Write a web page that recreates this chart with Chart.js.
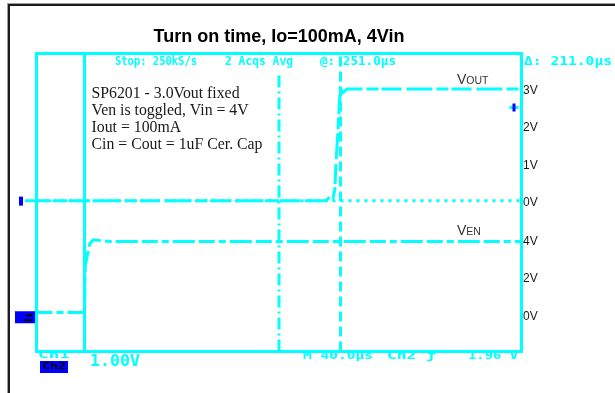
<!DOCTYPE html>
<html>
<head>
<meta charset="utf-8">
<title>Turn on time</title>
<script src="https://cdn.jsdelivr.net/npm/chart.js@4.4.0/dist/chart.umd.min.js"></script>
<style>
  html, body { margin: 0; padding: 0; background: #fff; }
  #wrap { position: relative; width: 615px; height: 393px; overflow: hidden; }
  #frame {
    position: absolute; left: 8px; top: 4px; width: 700px; height: 500px;
    border-left: 2px solid #1c1c1c; border-top: 2px solid #1c1c1c;
    box-shadow: -1px -1px 0 #a0a0a0;
  }
  canvas { position: absolute; left: 0; top: 0; }
</style>
</head>
<body>
<div id="wrap">
  <div id="frame"></div>
  <canvas id="scopeChart" width="615" height="393"></canvas>
</div>
<script>
// scope capture: 40 us/div, Vout 1 V/div, Ven 2 V/div
const voutTime  = [-9.5, 239, 241.5, 244.5, 246, 247, 248.5, 249.8, 250.5, 253, 256, 400];
const voutVolts = [0, 0, 0.1, 0.05, 0.3, 1.0, 1.8, 2.6, 3.0, 2.9, 3.0, 3.0];
const venTime   = [0, 39.6, 40.2, 42, 44, 47, 60, 400];
const venVolts  = [0.1, 0.1, 2.6, 3.2, 3.8, 4.0, 3.9, 3.9];
const cursorTimes = [39.6, 250.7];   // delta = 211 us
const centerTime = 200;
const voutTicks = [3, 2, 1, 0];
const venTicks = [4, 2, 0];
const trigLevel = 2.5;

const noteLines = [
  'SP6201 - 3.0Vout fixed',
  'Ven is toggled, Vin = 4V',
  'Iout = 100mA',
  'Cin = Cout = 1uF Cer. Cap'
];

// channel offsets on screen (divisions from the bottom)
const VOUT_ZERO = 4.05, VOUT_PER_DIV = 1;
const VEN_ZERO = 1.0, VEN_PER_DIV = 2;
const voutDiv = v => VOUT_ZERO + v / VOUT_PER_DIV;
const venDiv = v => VEN_ZERO + v / VEN_PER_DIV;

const CYAN = '#00ffff';
const BLUE = '#0000ff';

const yTickList = voutTicks.map(v => ({ value: voutDiv(v), label: v + 'V' }))
  .concat(venTicks.map(v => ({ value: venDiv(v), label: v + 'V' })));

function vLine(t, y0, y1) {
  return [{ x: t, y: y0 }, { x: t, y: y1 }];
}

function fitText(ctx, text, x0, x1, yMid, size, color) {
  ctx.save();
  ctx.font = 'bold ' + size + 'px "DejaVu Sans Mono"';
  const w = ctx.measureText(text).width;
  ctx.translate(x0, yMid);
  ctx.scale((x1 - x0) / w, 1);
  ctx.fillStyle = color;
  ctx.textBaseline = 'middle';
  ctx.fillText(text, 0, 0);
  ctx.restore();
}

const scopeDecor = {
  id: 'scopeDecor',
  afterDatasetsDraw(chart) {
    const ctx = chart.ctx;
    const a = chart.chartArea;
    const ys = chart.scales.y;
    ctx.save();
    // screen frame
    ctx.strokeStyle = CYAN;
    ctx.lineWidth = 3;
    ctx.strokeRect(a.left, a.top, a.right - a.left, a.bottom - a.top);

    // channel markers
    const p1 = ys.getPixelForValue(voutDiv(0));
    const p2 = ys.getPixelForValue(venDiv(0));
    ctx.fillStyle = BLUE;
    ctx.fillRect(19, p1 - 4, 4, 9);
    ctx.fillRect(15, p2 - 3, 20, 12);
    ctx.fillStyle = '#000';
    ctx.fillRect(26, p2, 6, 2);
    ctx.fillRect(24, p2 + 5, 8, 2);

    // trigger level marker
    const pt = ys.getPixelForValue(voutDiv(trigLevel));
    ctx.fillStyle = CYAN;
    ctx.fillRect(a.right - 12, pt - 1.5, 9, 3);
    ctx.fillStyle = BLUE;
    ctx.fillRect(a.right - 9, pt - 4, 3, 8);

    // scope readouts
    fitText(ctx, 'Stop: 250kS/s', 115, 197, 61.5, 12, CYAN);
    fitText(ctx, '2 Acqs Avg', 225, 293, 61.5, 12, CYAN);
    fitText(ctx, '@: 251.0\u00b5s', 320, 396, 61.5, 12, CYAN);
    fitText(ctx, '\u0394: 211.0\u00b5s', 524, 612, 61.5, 12, CYAN);
    fitText(ctx, 'Ch1', 38, 70, 356, 9, CYAN);
    ctx.fillStyle = BLUE;
    ctx.fillRect(40, 361, 28, 12);
    fitText(ctx, 'Ch2', 42, 66, 367, 9, '#000');
    fitText(ctx, '1.00V', 90, 140, 362, 15, CYAN);
    fitText(ctx, 'M 40.0\u00b5s', 303, 373, 356.5, 11, CYAN);
    fitText(ctx, 'Ch2 \u0192', 387, 436, 356.5, 11, CYAN);
    fitText(ctx, '1.96 V', 468, 518, 356.5, 11, CYAN);

    // notes
    ctx.fillStyle = '#1a1a1a';
    ctx.textBaseline = 'alphabetic';
    ctx.font = '15.8px "Liberation Serif"';
    noteLines.forEach((s, i) => ctx.fillText(s, 91.5, 97.5 + i * 17.2));

    // channel names
    ctx.fillStyle = '#333';
    ctx.font = '14px "Liberation Sans"';
    ctx.fillText('V', 457, 83.5);
    ctx.fillText('V', 457, 235);
    const vw = ctx.measureText('V').width;
    ctx.font = '10.5px "Liberation Sans"';
    ctx.fillText('OUT', 457 + vw, 83.5);
    ctx.fillText('EN', 457 + vw, 235);
    ctx.restore();
  }
};

const traceStyle = {
  borderColor: CYAN,
  borderWidth: 3,
  pointRadius: 0,
  tension: 0,
  fill: false
};

new Chart(document.getElementById('scopeChart'), {
  type: 'line',
  data: {
    datasets: [
      Object.assign({
        label: 'Vout',
        data: voutTime.map((t, i) => ({ x: t, y: voutDiv(voutVolts[i]) })),
        borderDash: [26, 4, 12, 3, 20, 5],
        clip: false
      }, traceStyle),
      Object.assign({
        label: 'Ven',
        data: venTime.map((t, i) => ({ x: t, y: venDiv(venVolts[i]) })),
        borderDash: [16, 4, 7, 4, 22, 4]
      }, traceStyle),
      Object.assign({
        label: 'cursor 1',
        data: vLine(cursorTimes[0], 0, 8)
      }, traceStyle),
      Object.assign({
        label: 'cursor 2',
        data: vLine(cursorTimes[1], 0, 8),
        borderDash: [10, 5]
      }, traceStyle),
      Object.assign({
        label: 'center',
        data: vLine(centerTime, 0, 7.5),
        borderDash: [12, 4, 2, 4]
      }, traceStyle),
      Object.assign({
        label: 'Vout ground',
        data: [{ x: 0, y: voutDiv(0) }, { x: 400, y: voutDiv(0) }],
        borderDash: [3, 5]
      }, traceStyle)
    ]
  },
  options: {
    responsive: false,
    animation: false,
    devicePixelRatio: 1,
    layout: { padding: { left: 36.5, right: 0, top: 26.2, bottom: 41.5 } },
    plugins: {
      legend: { display: false },
      tooltip: { enabled: false },
      title: {
        display: true,
        text: 'Turn on time, Io=100mA, 4Vin',
        fullSize: false,
        color: '#000',
        font: { family: '"Liberation Sans", Arial', size: 18, weight: 'bold' },
        padding: { top: 0, bottom: 5.7 }
      }
    },
    scales: {
      x: { type: 'linear', display: false, min: 0, max: 400 },
      y: {
        position: 'right',
        min: 0,
        max: 8,
        grid: { display: false, drawTicks: false },
        border: { display: false },
        afterFit: s => { s.width = 93.5; },
        afterBuildTicks: s => { s.ticks = yTickList.map(t => ({ value: t.value })); },
        ticks: {
          autoSkip: false,
          padding: 1.5,
          labelOffset: 2,
          color: '#1a1a1a',
          font: { family: '"Liberation Sans", Arial', size: 12 },
          callback: (v, i) => yTickList[i].label
        }
      }
    }
  },
  plugins: [scopeDecor]
});
</script>
</body>
</html>
